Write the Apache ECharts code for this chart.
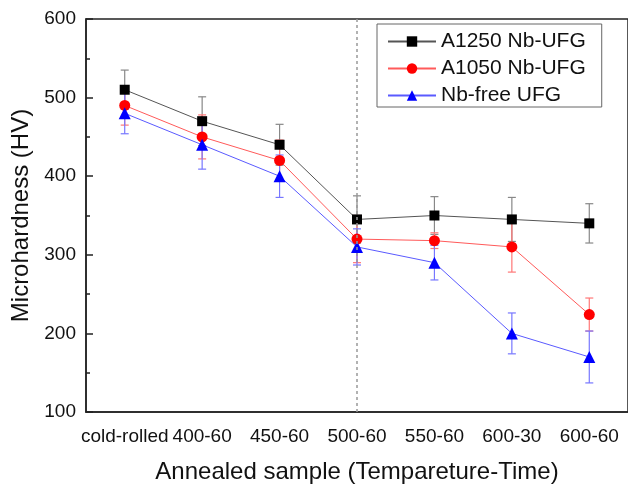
<!DOCTYPE html>
<html>
<head>
<meta charset="utf-8">
<script src="https://cdn.jsdelivr.net/npm/echarts@6/dist/echarts.min.js"></script>
<style>
  html, body { margin: 0; padding: 0; background: #fff; }
  #main { width: 628px; height: 489px; }
</style>
</head>
<body>
<div id="main"></div>
<script>
// samples (temperature-time)
const categories = ['cold-rolled', '400-60', '450-60', '500-60', '550-60', '600-30', '600-60'];

const a1250 = [510, 470, 440, 345, 350, 345, 340];
const a1250Err = [25, 31, 26, 30, 24, 28, 25];
const a1050 = [490, 450, 420, 320, 318, 310, 224];
const a1050Err = [25, 28, 26, 30, 10, 32, 21];
const nbFree = [480, 440, 400, 310, 290, 200, 170];
const nbFreeErr = [26, 31, 27, 23, 22, 26, 33];

const yTicks = [100, 200, 300, 400, 500, 600];

const font = "'Liberation Sans', Arial, sans-serif";
const chart = echarts.init(document.getElementById('main'));

function errSeries(name, vals, errs, color) {
    return {
        name: name,
        type: 'custom',
        z: 1,
        silent: true,
        data: vals.map((v, i) => [i, v - errs[i], v + errs[i]]),
        renderItem: function (params, api) {
            const lo = api.coord([api.value(0), api.value(1)]);
            const hi = api.coord([api.value(0), api.value(2)]);
            const w = 4;
            const style = { stroke: color, lineWidth: 1.2 };
            return {
                type: 'group',
                children: [
                    { type: 'line', shape: { x1: lo[0], y1: lo[1], x2: hi[0], y2: hi[1] }, style: style },
                    { type: 'line', shape: { x1: lo[0] - w, y1: lo[1], x2: lo[0] + w, y2: lo[1] }, style: style },
                    { type: 'line', shape: { x1: hi[0] - w, y1: hi[1], x2: hi[0] + w, y2: hi[1] }, style: style }
                ]
            };
        }
    };
}

function lineSeries(name, vals, symbol, size, markerColor, lineColor) {
    return {
        name: name,
        type: 'line',
        z: 3,
        data: vals,
        symbol: symbol,
        symbolSize: size,
        itemStyle: { color: markerColor, opacity: 1 },
        lineStyle: { color: lineColor, width: 1 },
        emphasis: { disabled: true }
    };
}

const lineBlack = lineSeries('A1250 Nb-UFG', a1250, 'rect', 10, '#000', '#555');
lineBlack.markLine = {
    silent: true,
    symbol: 'none',
    label: { show: false },
    lineStyle: { color: '#999', type: [3, 3], width: 1.5 },
    data: [{ xAxis: '500-60' }]
};

chart.setOption({
    animation: false,
    backgroundColor: '#fff',
    textStyle: { fontFamily: font },
    grid: {
        left: 86, right: -2, top: 19, bottom: 69,
        show: true, borderColor: '#222', borderWidth: 1.5
    },
    legend: {
        data: ['A1250 Nb-UFG', 'A1050 Nb-UFG', 'Nb-free UFG'],
        orient: 'vertical',
        left: 377, top: 24,
        padding: [7, 16, 1, 10],
        borderColor: '#666', borderWidth: 1,
        itemWidth: 48, itemHeight: 13, itemGap: 6,
        textStyle: { fontSize: 21, color: '#111', fontFamily: font }
    },
    xAxis: [{
        type: 'category',
        data: categories,
        boundaryGap: true,
        name: 'Annealed sample (Tempareture-Time)',
        nameLocation: 'middle',
        nameGap: 48,
        nameTextStyle: { fontSize: 24, color: '#111', fontFamily: font },
        axisLine: { lineStyle: { color: '#222', width: 1.5 } },
        axisTick: { alignWithLabel: true, inside: true, length: 7, lineStyle: { color: '#222', width: 1.5 } },
        axisLabel: { fontSize: 19, color: '#111', margin: 15, interval: 0 },
        splitLine: { show: false }
    }, {
        type: 'category',
        data: categories,
        boundaryGap: true,
        position: 'bottom',
        axisLine: { show: false },
        axisTick: { alignWithLabel: false, inside: true, length: 4, lineStyle: { color: '#222', width: 1.5 } },
        axisLabel: { show: false },
        splitLine: { show: false }
    }],
    yAxis: {
        type: 'value',
        min: yTicks[0],
        max: yTicks[yTicks.length - 1],
        interval: 100,
        name: 'Microhardness (HV)',
        nameLocation: 'middle',
        nameGap: 52,
        nameTextStyle: { fontSize: 24, color: '#111', fontFamily: font },
        axisLine: { show: true, lineStyle: { color: '#222', width: 1.5 } },
        axisTick: { show: true, inside: true, length: 7, lineStyle: { color: '#222', width: 1.5 } },
        minorTick: { show: true, splitNumber: 2, length: 4, lineStyle: { color: '#222', width: 1.5 } },
        axisLabel: { fontSize: 19, color: '#111', margin: 10 },
        splitLine: { show: false }
    },
    series: [
        errSeries('err-a1250', a1250, a1250Err, '#888'),
        errSeries('err-a1050', a1050, a1050Err, '#f77'),
        errSeries('err-nbfree', nbFree, nbFreeErr, '#77f'),
        lineBlack,
        lineSeries('A1050 Nb-UFG', a1050, 'circle', 11, '#ff0000', '#ff5a5a'),
        lineSeries('Nb-free UFG', nbFree, 'triangle', 12, '#0000ff', '#5a5aff')
    ]
});
</script>
</body>
</html>
